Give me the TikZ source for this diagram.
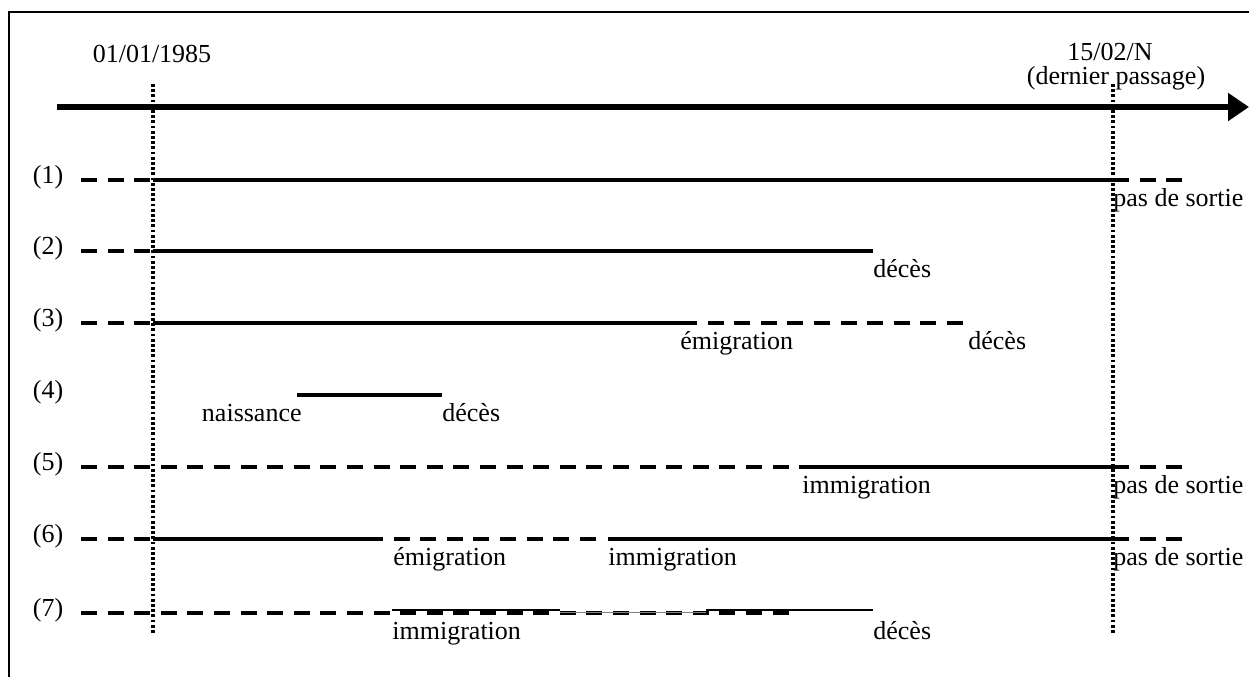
\documentclass[tikz,border=0pt]{standalone}
\usepackage{fontspec}
\setmainfont{Liberation Serif}
\usetikzlibrary{arrows.meta}
\begin{document}
\begin{tikzpicture}[x=0.5pt,y=-0.5pt,
  font=\fontsize{13}{15}\selectfont,
  life/.style={line width=2pt},
  gone/.style={line width=2pt, dash pattern=on 8pt off 5.3pt},
  gonelate/.style={gone, dash phase=8pt},
  datum/.style={line width=1.6pt, dash pattern=on 1.4pt off 1.2pt},
  lbl/.style={anchor=base west, inner sep=0pt},
  rowlbl/.style={anchor=base, inner sep=0pt}]
\useasboundingbox (0,0) rectangle (1249,677);
\draw[line width=1pt] (9,677) -- (9,12) -- (1249,12);
\node[rowlbl] (d0) at (152,62) {01/01/1985};
\node[rowlbl] (dN) at (1110,60) {15/02/N};
\node[rowlbl] (dp) at (1116,84) {(dernier passage)};
\draw[datum] (153,84) -- (153,635);
\draw[datum] (1113,84) -- (1113,635);
\draw[line width=3pt, -{Triangle[length=10.5pt,width=13.5pt]}] (57,107) -- (1249,107);
\foreach \n/\y in {1/180,2/251,3/323,4/395,5/467,6/539,7/613}
  \node[rowlbl] (r\n) at (48,\y+3) {(\n)};
\draw[gone] (81,180) -- (153,180);
\draw[life] (153,180) -- (1113,180);
\draw[gone] (1113,180) -- (1183,180);
\node[lbl] (s1) at (1113,206) {pas de sortie};
\draw[gone] (81,251) -- (153,251);
\draw[life] (153,251) -- (873,251);
\node[lbl] (dc2) at (873,277) {décès};
\draw[gone] (81,323) -- (153,323);
\draw[life] (153,323) -- (697,323);
\draw[gonelate] (697,323) -- (965,323);
\node[lbl] (em3) at (680,349) {émigration};
\node[lbl] (dc3) at (968,349) {décès};
\draw[life] (297,395) -- (442,395);
\node[lbl, anchor=base east] (na4) at (302,421) {naissance};
\node[lbl] (dc4) at (442,421) {décès};
\draw[gone] (81,467) -- (800,467);
\draw[life] (800,467) -- (1113,467);
\draw[gone] (1113,467) -- (1183,467);
\node[lbl] (im5) at (802,493) {immigration};
\node[lbl] (s5) at (1113,493) {pas de sortie};
\draw[gone] (81,539) -- (153,539);
\draw[life] (153,539) -- (383,539);
\draw[gonelate] (383,539) -- (606,539);
\draw[life] (608,539) -- (1113,539);
\draw[gone] (1113,539) -- (1183,539);
\node[lbl] (em6) at (393,565) {émigration};
\node[lbl] (im6) at (608,565) {immigration};
\node[lbl] (s6) at (1113,565) {pas de sortie};
\draw[gone] (81,613) -- (795,613);
\draw[line width=0.7pt] (392,610) -- (560,610);
\draw[line width=0.5pt, gray] (560,612) -- (706,612);
\draw[line width=0.7pt] (706,610) -- (873,610);
\node[lbl] (im7) at (392,639) {immigration};
\node[lbl] (dc7) at (873,639) {décès};
\end{tikzpicture}
\end{document}
